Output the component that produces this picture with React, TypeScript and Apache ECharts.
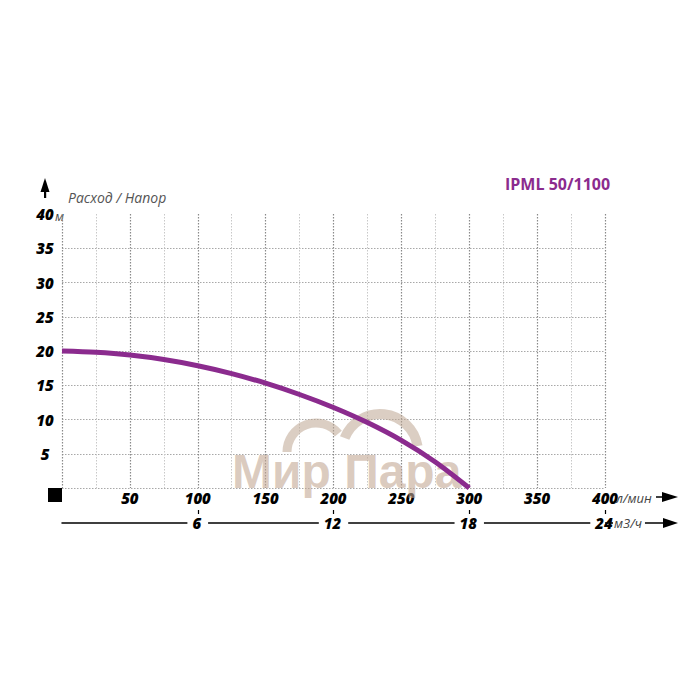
import React, { useEffect, useRef } from "react";
import * as echarts from "echarts";

const flowLpm = [0, 25, 50, 75, 100, 125, 150, 175, 200, 225, 250, 275, 300];
const headM = [20, 19.8, 19.4, 18.75, 17.85, 16.7, 15.3, 13.65, 11.75, 9.55, 6.95, 3.8, 0];
const flowTicksM3h = [6, 12, 18, 24];
const title = "IPML 50/1100";
const axisTitle = "Расход / Напор";

const FONT = "'Open Sans', 'DejaVu Sans', sans-serif";
const PURPLE = "#8b2b8e";

export default function App() {
  const ref = useRef<HTMLDivElement>(null);
  useEffect(() => {
    const chart = echarts.init(ref.current!, null, { renderer: "svg" });
    const labelFont = {
      fontFamily: FONT,
      fontWeight: 800 as any,
      fontStyle: "italic" as any,
      fontSize: 15,
      color: "#000",
    };
    chart.setOption({
      animation: false,
      backgroundColor: "#fff",
      grid: { left: 62, right: 95, top: 214, bottom: 212 },
      xAxis: [
        {
          type: "value",
          min: 0,
          max: 400,
          interval: 50,
          position: "bottom",
          axisLine: { show: false },
          axisTick: { show: false },
          minorTick: { show: false, splitNumber: 2 },
          minorSplitLine: { show: true, lineStyle: { color: "#c8c8c8", type: [1.5, 1.5], width: 1 } },
          splitLine: { show: true, lineStyle: { color: "#8a8a8a", type: [1.5, 1.5], width: 1.2 } },
          axisLabel: {
            ...labelFont,
            margin: 2,
            formatter: (v: number) => (v === 0 ? "" : String(v)),
          },
        },
        {
          type: "value",
          min: 0,
          max: 24,
          interval: 6,
          position: "bottom",
          offset: 35,
          axisLine: { show: true, lineStyle: { color: "#000", width: 1.5 } },
          axisTick: { show: true, inside: true, length: 13, customValues: flowTicksM3h, lineStyle: { color: "#000", width: 1.2 } },
          splitLine: { show: false },
          axisLabel: {
            ...labelFont,
            margin: -9,
            backgroundColor: "#fff",
            padding: [1, 7, 1, 5],
            customValues: flowTicksM3h,
            formatter: (v: number) => (v === 0 ? "" : String(v)),
          },
        },
      ],
      yAxis: {
        type: "value",
        min: 0,
        max: 40,
        interval: 5,
        axisLine: { show: false },
        axisTick: { show: false },
        splitLine: { show: true, showMaxLine: false, lineStyle: { color: "#a8a8a8", type: [1.5, 1.5], width: 1 } },
        axisLabel: {
          ...labelFont,
          align: "center",
          margin: 17,
          formatter: (v: number) => (v === 0 ? "" : String(v)),
        },
      },
      series: [
        {
          type: "line",
          xAxisIndex: 0,
          data: flowLpm.map((x, i) => [x, headM[i]]),
          smooth: 0.3,
          showSymbol: false,
          z: 5,
          lineStyle: { color: PURPLE, width: 5 },
        },
      ],
      graphic: [
        // watermark
        {
          type: "arc",
          z: 1,
          shape: { cx: 316, cy: 452, r: 29, startAngle: Math.PI * 1.0, endAngle: Math.PI * 1.78 },
          style: { stroke: "rgba(190,165,145,0.55)", lineWidth: 9, fill: "none" },
        },
        {
          type: "arc",
          z: 1,
          shape: { cx: 380, cy: 452, r: 38, startAngle: Math.PI * 1.12, endAngle: Math.PI * 1.95 },
          style: { stroke: "rgba(190,165,145,0.55)", lineWidth: 10, fill: "none" },
        },
        {
          type: "text",
          z: 1,
          x: 232,
          y: 471,
          style: {
            text: "Мир Пара",
            font: `bold 48px 'Liberation Sans', Arial, sans-serif`,
            fill: "rgba(196,168,148,0.6)",
            verticalAlign: "middle",
            align: "left",
          },
        },
        // title
        {
          type: "text",
          x: 505,
          y: 184,
          style: { text: title, font: `bold 16px ${FONT}`, fill: PURPLE, verticalAlign: "middle" },
        },
        {
          type: "text",
          x: 68,
          y: 197,
          style: { text: axisTitle, font: `italic 14px ${FONT}`, fill: "#555", verticalAlign: "middle" },
        },
        // up arrow
        { type: "polygon", shape: { points: [[45, 178], [40.5, 192], [49.5, 192]] }, style: { fill: "#000" } },
        { type: "rect", shape: { x: 44, y: 190, width: 2.2, height: 8 }, style: { fill: "#000" } },
        // unit after 40
        {
          type: "text",
          x: 55,
          y: 216,
          style: { text: "м", font: `italic 13px ${FONT}`, fill: "#444", verticalAlign: "middle" },
        },
        // black square
        { type: "rect", shape: { x: 48, y: 488, width: 14, height: 14 }, style: { fill: "#000" } },
        // l/min unit + arrow
        {
          type: "text",
          z: 10,
          x: 616,
          y: 498,
          style: { text: "л/мин", font: `italic 13px ${FONT}`, fill: "#444", verticalAlign: "middle" },
        },
        { type: "line", shape: { x1: 656, y1: 497, x2: 667, y2: 497 }, style: { stroke: "#000", lineWidth: 1.5 } },
        { type: "polygon", shape: { points: [[662, 492], [678, 497], [662, 502]] }, style: { fill: "#000" } },
        // m3/h axis extension + unit + arrow
        { type: "line", z: 5, shape: { x1: 605, y1: 523, x2: 667, y2: 523 }, style: { stroke: "#000", lineWidth: 1.5 } },
        {
          type: "text",
          z: 10,
          x: 613,
          y: 523,
          style: {
            text: "м3/ч",
            font: `italic 13px ${FONT}`,
            fill: "#444",
            verticalAlign: "middle",
            backgroundColor: "#fff",
            padding: [1, 3, 1, 1],
          },
        },
        { type: "polygon", shape: { points: [[663, 518], [678, 523], [663, 528]] }, style: { fill: "#000" } },
      ],
    });
    return () => chart.dispose();
  }, []);
  return (
    <div
      ref={ref}
      style={{ position: "fixed", left: 0, top: 0, width: 700, height: 700 }}
    />
  );
}
